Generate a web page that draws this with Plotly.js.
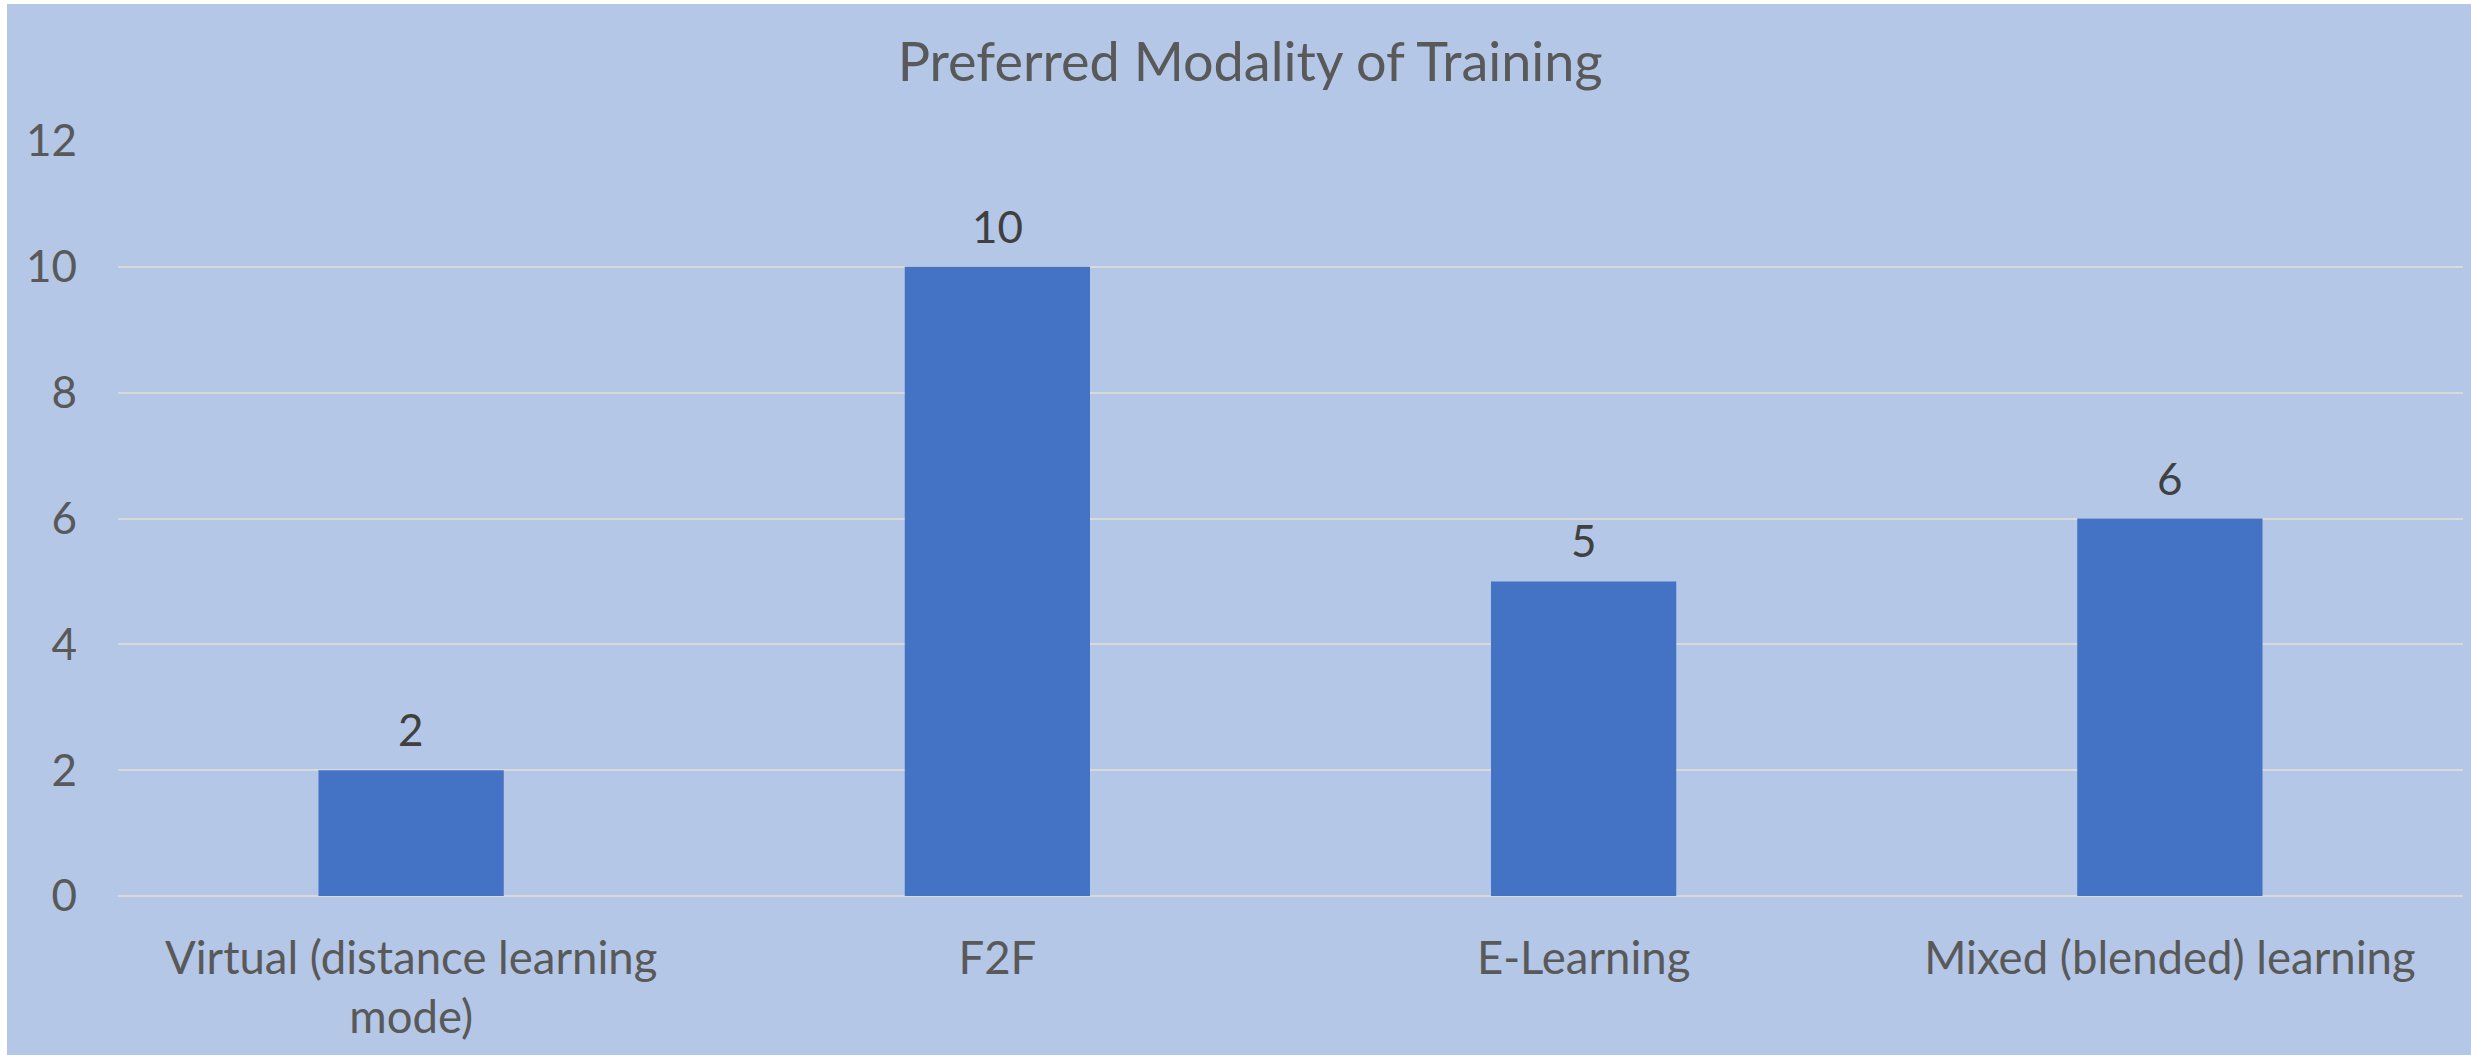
<!DOCTYPE html>
<html>
<head>
<meta charset="utf-8">
<script src="https://cdn.plot.ly/plotly-3.0.1.min.js"></script>
<style>
  html, body { margin: 0; padding: 0; background: #ffffff; }
  #chart { position: absolute; left: 7px; top: 4px; width: 2464px; height: 1051px; }
</style>
</head>
<body>
<div id="chart"></div>
<script>
// Data
const categories = [
  "Virtual (distance learning<br>mode)",
  "F2F",
  "E-Learning",
  "Mixed (blended) learning"
];
const counts = [2, 10, 5, 6];
const yTickValues = [0, 2, 4, 6, 8, 10, 12];
const chartTitle = "Preferred Modality of Training";

const FONT = "Lato, 'Open Sans', sans-serif";

const trace = {
  type: "bar",
  x: categories,
  y: counts,
  marker: { color: "#4472C4", line: { width: 0 } },
  cliponaxis: false,
  hoverinfo: "x+y"
};

// value labels above each bar, positioned through the axes
const valueLabels = categories.map((c, i) => ({
  x: c,
  y: counts[i],
  xref: "x",
  yref: "y",
  text: String(counts[i]),
  showarrow: false,
  xanchor: "center",
  yanchor: "bottom",
  yshift: 13,
  font: { family: FONT, size: 44, color: "#404040" }
}));

const layout = {
  width: 2464,
  height: 1051,
  paper_bgcolor: "#B4C7E7",
  plot_bgcolor: "#B4C7E7",
  margin: { l: 111, r: 8, t: 137, b: 159, pad: 0 },
  bargap: 0.684,
  showlegend: false,
  font: { family: FONT, color: "#595959", size: 44 },
  annotations: valueLabels,
  title: {
    text: chartTitle,
    font: { family: FONT, size: 54, color: "#595959" },
    xref: "container",
    x: 0.5045,
    xanchor: "center",
    yref: "container",
    y: 1 - 58 / 1051,
    yanchor: "middle"
  },
  xaxis: {
    type: "category",
    showgrid: false,
    showline: false,
    zeroline: false,
    ticks: "",
    tickfont: { family: FONT, size: 45.5, color: "#595959" },
    ticklabelstandoff: 31,
    automargin: false
  },
  yaxis: {
    range: [0, 12],
    tickvals: yTickValues,
    ticktext: yTickValues.map(String),
    showgrid: true,
    gridcolor: "#D9D9D9",
    gridwidth: 2,
    zeroline: true,
    zerolinecolor: "#D9D9D9",
    zerolinewidth: 2,
    showline: false,
    ticks: "",
    tickfont: { family: FONT, size: 44, color: "#595959" },
    ticklabelstandoff: 40,
    automargin: false
  }
};

Plotly.newPlot("chart", [trace], layout, { displayModeBar: false });
</script>
</body>
</html>
